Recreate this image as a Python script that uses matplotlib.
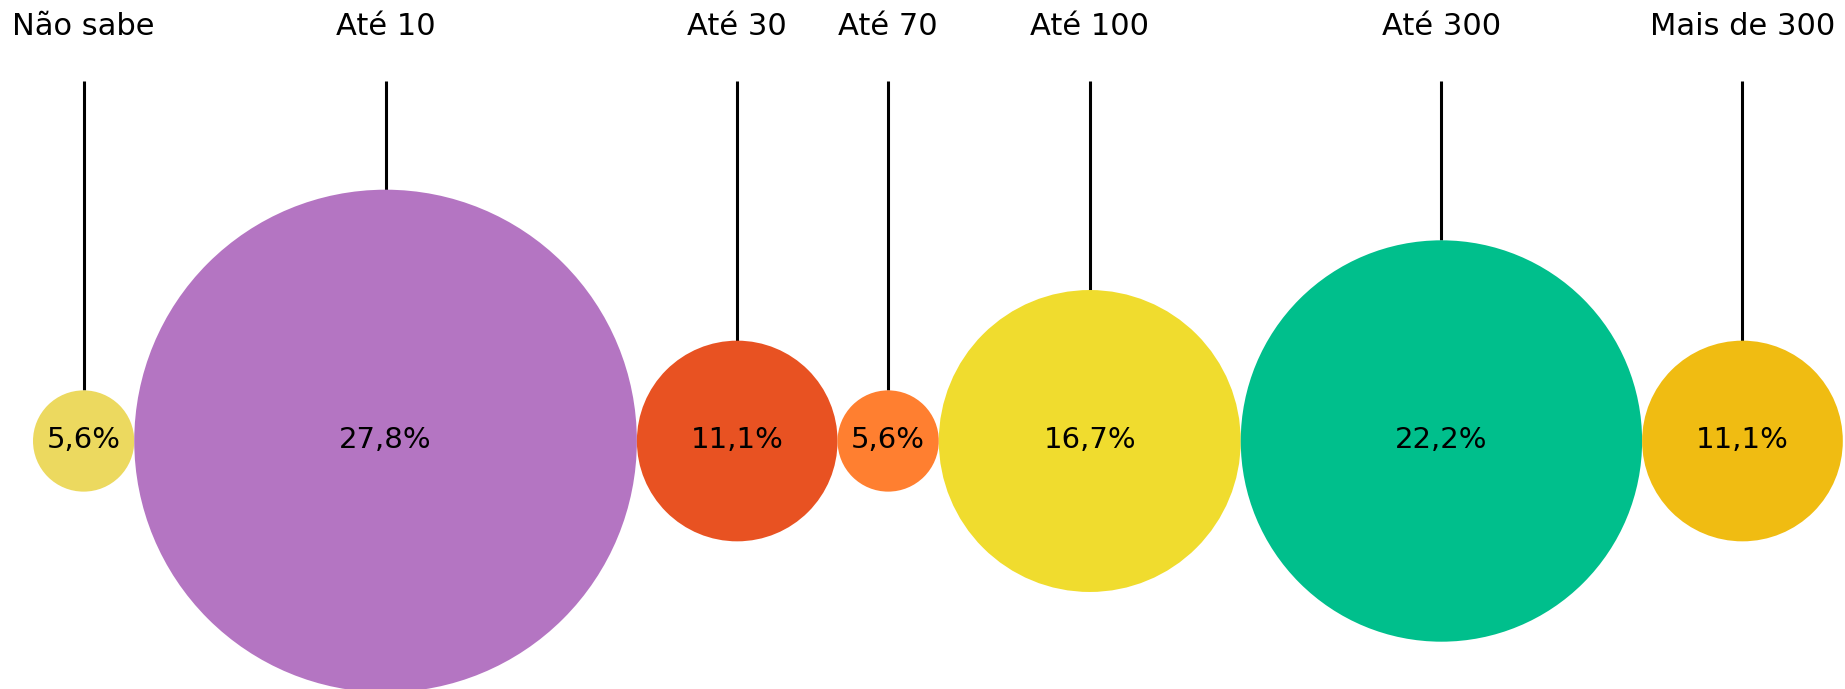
import matplotlib
matplotlib.use("Agg")
import matplotlib.pyplot as plt
from matplotlib.patches import Circle

categories = ["Não sabe", "Até 10", "Até 30", "Até 70", "Até 100", "Até 300", "Mais de 300"]
values = [5.6, 27.8, 11.1, 5.6, 16.7, 22.2, 11.1]
colors = ["#ECD95F", "#B475C2", "#E85222", "#FF7F30", "#F0DC2E", "#00BF8C", "#F0BC12"]

W, H = 1845, 689
px_per_unit = 9.04     # bubble radius in pixels per percentage point
x_start = 33           # left edge of the first bubble
cy = 441               # baseline through bubble centres
line_top = 81
label_base = 35

plt.rcParams["font.family"] = ["DejaVu Sans"]

fig = plt.figure(figsize=(W / 100, H / 100), dpi=100)
ax = fig.add_axes([0, 0, 1, 1])
ax.set_xlim(0, W)
ax.set_ylim(H, 0)
ax.set_aspect("equal")
ax.axis("off")

# bubbles sit side by side, each touching its neighbour
x = x_start
for cat, val, col in zip(categories, values, colors):
    r = val * px_per_unit
    cx = x + r
    ax.add_patch(Circle((cx, cy), r, facecolor=col, edgecolor="none", zorder=2))
    ax.plot([cx, cx], [line_top, cy - r], color="black", lw=2.2, zorder=1,
            solid_capstyle="butt")
    ax.text(cx, label_base, cat, ha="center", va="baseline", fontsize=22, color="black")
    ax.text(cx, cy + 7, f"{val:.1f}%".replace(".", ","), ha="center", va="baseline",
            fontsize=21, color="black", zorder=3)
    x += 2 * r

fig.savefig("out.png", dpi=100, facecolor="white")
